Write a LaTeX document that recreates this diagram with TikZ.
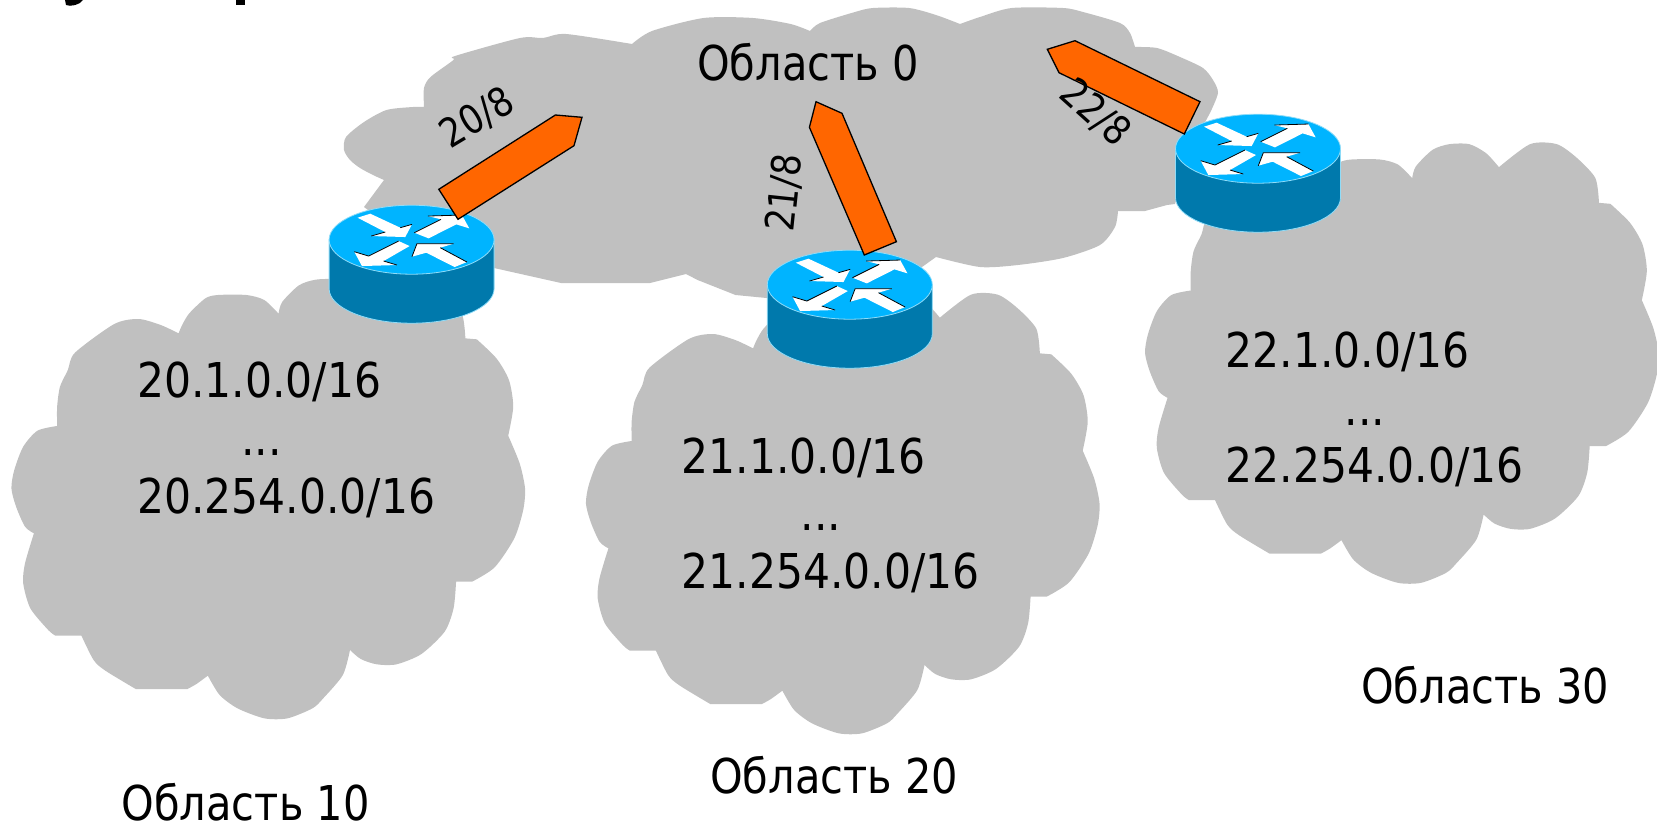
\documentclass[tikz,border=0pt]{standalone}
\usepackage{fontspec}
\setmainfont{DejaVu Sans}[FakeStretch=0.865]
\newfontfamily\numfont{DejaVu Sans}[FakeStretch=0.885]
\definecolor{cloudgray}{HTML}{C0C0C0}
\definecolor{routertop}{HTML}{00B4FF}
\definecolor{routerside}{HTML}{0079AC}
\definecolor{routeredge}{HTML}{8FDCF8}
\definecolor{flagorange}{HTML}{FF6600}
\tikzset{
  x=1pt,y=-1pt,
  lobe/.style={smooth,tension=0.45},
  netlabel/.style={anchor=base west,inner sep=0pt,text depth=0pt,font=\fontsize{48}{58}\selectfont},
  numlabel/.style={anchor=base west,inner sep=0pt,text depth=0pt,font=\numfont\fontsize{48}{58}\selectfont},
  masklabel/.style={inner sep=0pt,font=\fontsize{40}{48}\selectfont},
  flag/.style={fill=flagorange,draw=black,line width=1.3pt,line join=miter},
  whitearrow/.style={fill=white},
  arrowedge/.style={draw=black,line width=.8pt},
  cloudpic/.pic={
    \fill[cloudgray,x=0.35714pt,y=-0.33333pt]
      plot[lobe] coordinates {(160,438)(105,452)(65,500)(40,570)(32,625)(45,680)(70,740)(95,760)}
      -- plot[lobe] coordinates {(95,760)(70,850)(65,910)(85,985)(135,1050)(155,1067)}
      -- plot[lobe] coordinates {(228,1067)(262,1140)(295,1172)(380,1227)}
      -- (525,1227)
      -- plot[lobe] coordinates {(525,1227)(550,1212)(582,1187)}
      -- plot[lobe] coordinates {(582,1187)(615,1245)(665,1285)(740,1315)(805,1315)(875,1285)(905,1255)(960,1185)(980,1110)}
      -- plot[lobe] coordinates {(980,1110)(1010,1137)(1055,1153)(1110,1153)(1180,1122)(1245,1055)(1270,985)(1277,905)}
      -- plot[lobe] coordinates {(1322,905)(1385,862)(1440,775)(1465,690)(1470,625)(1455,550)(1423,467)}
      -- plot[lobe] coordinates {(1423,467)(1437,380)(1425,300)(1390,235)(1335,178)}
      -- plot[lobe] coordinates {(1303,175)(1293,101)(1242,41)(1185,-1)(1110,-1)(1023,68)}
      -- plot[lobe] coordinates {(1023,68)(987,26)(940,-1)(884,-1)(837,16)(790,66)(780,101)}
      -- plot[lobe] coordinates {(780,101)(740,60)(690,45)(610,45)(575,55)(530,100)(510,135)(500,160)}
      -- plot[lobe] coordinates {(500,160)(450,135)(388,117)(320,132)(210,218)(190,270)(168,320)(160,380)(160,438)}
      --cycle;
  },
  routerpic/.pic={
    \fill[routerside,draw=routeredge,line width=.8pt]
      (-82.5,0)--(-82.5,49) arc[start angle=180,end angle=360,x radius=82.5,y radius=-34.5]
      --(82.5,0)--cycle;
    \fill[routertop,draw=routeredge,line width=.8pt] (0,0) ellipse[x radius=82.5,y radius=34.5];
    \begin{scope}[x=0.33333pt,y=-0.33333pt]
      \fill[whitearrow] (-162,-66)--(-124,-78)--(-34,-36)--(1,-46)--(-19,-8)--(-121,-11)--(-79,-23)--cycle;
      \draw[arrowedge] (-34,-36)--(1,-46) (-121,-11)--(-79,-23);
      \fill[whitearrow] (8,-21)--(88,-61)--(49,-71)--(151,-74)--(173,-34)--(134,-46)--(51,-4)--cycle;
      \draw[arrowedge] (8,-21)--(88,-61) (49,-71)--(151,-74);
      \fill[whitearrow] (-6,19)--(-39,4)--(-129,49)--(-172,36)--(-149,79)--(-44,76)--(-84,64)--cycle;
      \draw[arrowedge] (-39,4)--(-129,49)--(-172,36) (-44,76)--(-84,64);
      \fill[whitearrow] (166,67)--(129,82)--(44,39)--(1,51)--(16,12)--(126,12)--(86,24)--cycle;
      \draw[arrowedge] (1,51)--(16,12)--(126,12) (86,24)--(166,67);
    \end{scope}
  }
}
\begin{document}
\begin{tikzpicture}
\useasboundingbox (0,0) rectangle (1657,825);
% cut-off title fragments
\fill[black] (65,0)--(83,0)..controls (80,5) and (70,7) .. (66,5)--cycle;
\fill[black] (236,0) rectangle (245,5);
% clouds
\pic at (0,280) {cloudpic};
\pic at (574.5,295) {cloudpic};
\pic at (1133.6,144.5) {cloudpic};
\fill[cloudgray]
  plot[lobe] coordinates {(364,207)(384,180)}
  -- plot[lobe] coordinates {(384,180)(373,175)(360,168)(350,160)(344,150)(346,137)(364,122)(386.5,110)(413,107)(424,107)}
  -- plot[lobe] coordinates {(424,107)(424,88)(430.5,77)(453.5,60)(455,56)(520,38)(543,38)(566,34)(632,44)}
  -- plot[lobe] coordinates {(632,44)(652,31)(703.6,18)(753,18)(790.6,24)(810,31)}
  -- plot[lobe] coordinates {(810,31)(820,23)(855,12)(873,8)(909,8)(936,15)(960,24)}
  -- plot[lobe] coordinates {(960,24)(980,17)(1011.6,8)(1063,8)(1083,12)(1120,23)(1130,33)(1135,47)}
  -- plot[lobe] coordinates {(1135,47)(1157,48)(1180,57)(1203,68)(1213,80)(1218,93)(1210,113)}
  --(1190,150)--(1175,204)--(1167,205)--(1145,211)--(1118,211)
  -- plot[lobe] coordinates {(1118,211)(1115,227)(1100,245)(1063,258)(1018,265)(980,267)(936,257)}
  --(922,267)--(850,300)--(766.5,298)--(735.5,295)--(697.6,280)--(686,274)--(650,283)--(561,283)--(494,268)--(420,250)--cycle;
% routers
\pic at (411.6,239.7) {routerpic};
\pic at (849.8,284.7) {routerpic};
\pic at (1258,148.7) {routerpic};
% flags
\draw[flag] (438.8,189.3)--(458,219.3)--(574,145.7)--(582,117.3)--(555.4,115)--cycle;
\draw[flag] (864.3,255)--(896.4,241.7)--(842,113.3)--(816,101.7)--(809.4,127.3)--cycle;
\draw[flag] (1184.3,134)--(1200,101.7)--(1075,40.7)--(1047.3,49.3)--(1059,72.7)--cycle;
% labels
\node[netlabel] (a0) at (697,80) {Область 0};
\node[netlabel] (a10) at (121.5,820) {Область 10};
\node[netlabel] (a20) at (710,793.6) {Область 20};
\node[netlabel] (a30) at (1361,703) {Область 30};
\node[numlabel] (n1a) at (137,397.3) {20.1.0.0/16};
\node[numlabel] (n1b) at (241,455) {...};
\node[numlabel] (n1c) at (137,513.3) {20.254.0.0/16};
\node[numlabel] (n2a) at (681.5,473.3) {21.1.0.0/16};
\node[numlabel] (n2b) at (800.5,530) {...};
\node[numlabel] (n2c) at (681.5,588.3) {21.254.0.0/16};
\node[numlabel] (n3a) at (1225.3,367.3) {22.1.0.0/16};
\node[numlabel] (n3b) at (1344.5,425) {...};
\node[numlabel] (n3c) at (1225.3,482.7) {22.254.0.0/16};
\node[masklabel,rotate=31] (m20) at (477.5,118) {20/8};
\node[masklabel,rotate=84] (m21) at (785,193) {21/8};
\node[masklabel,rotate=-42] (m22) at (1095.5,113) {22/8};
\end{tikzpicture}
\end{document}
